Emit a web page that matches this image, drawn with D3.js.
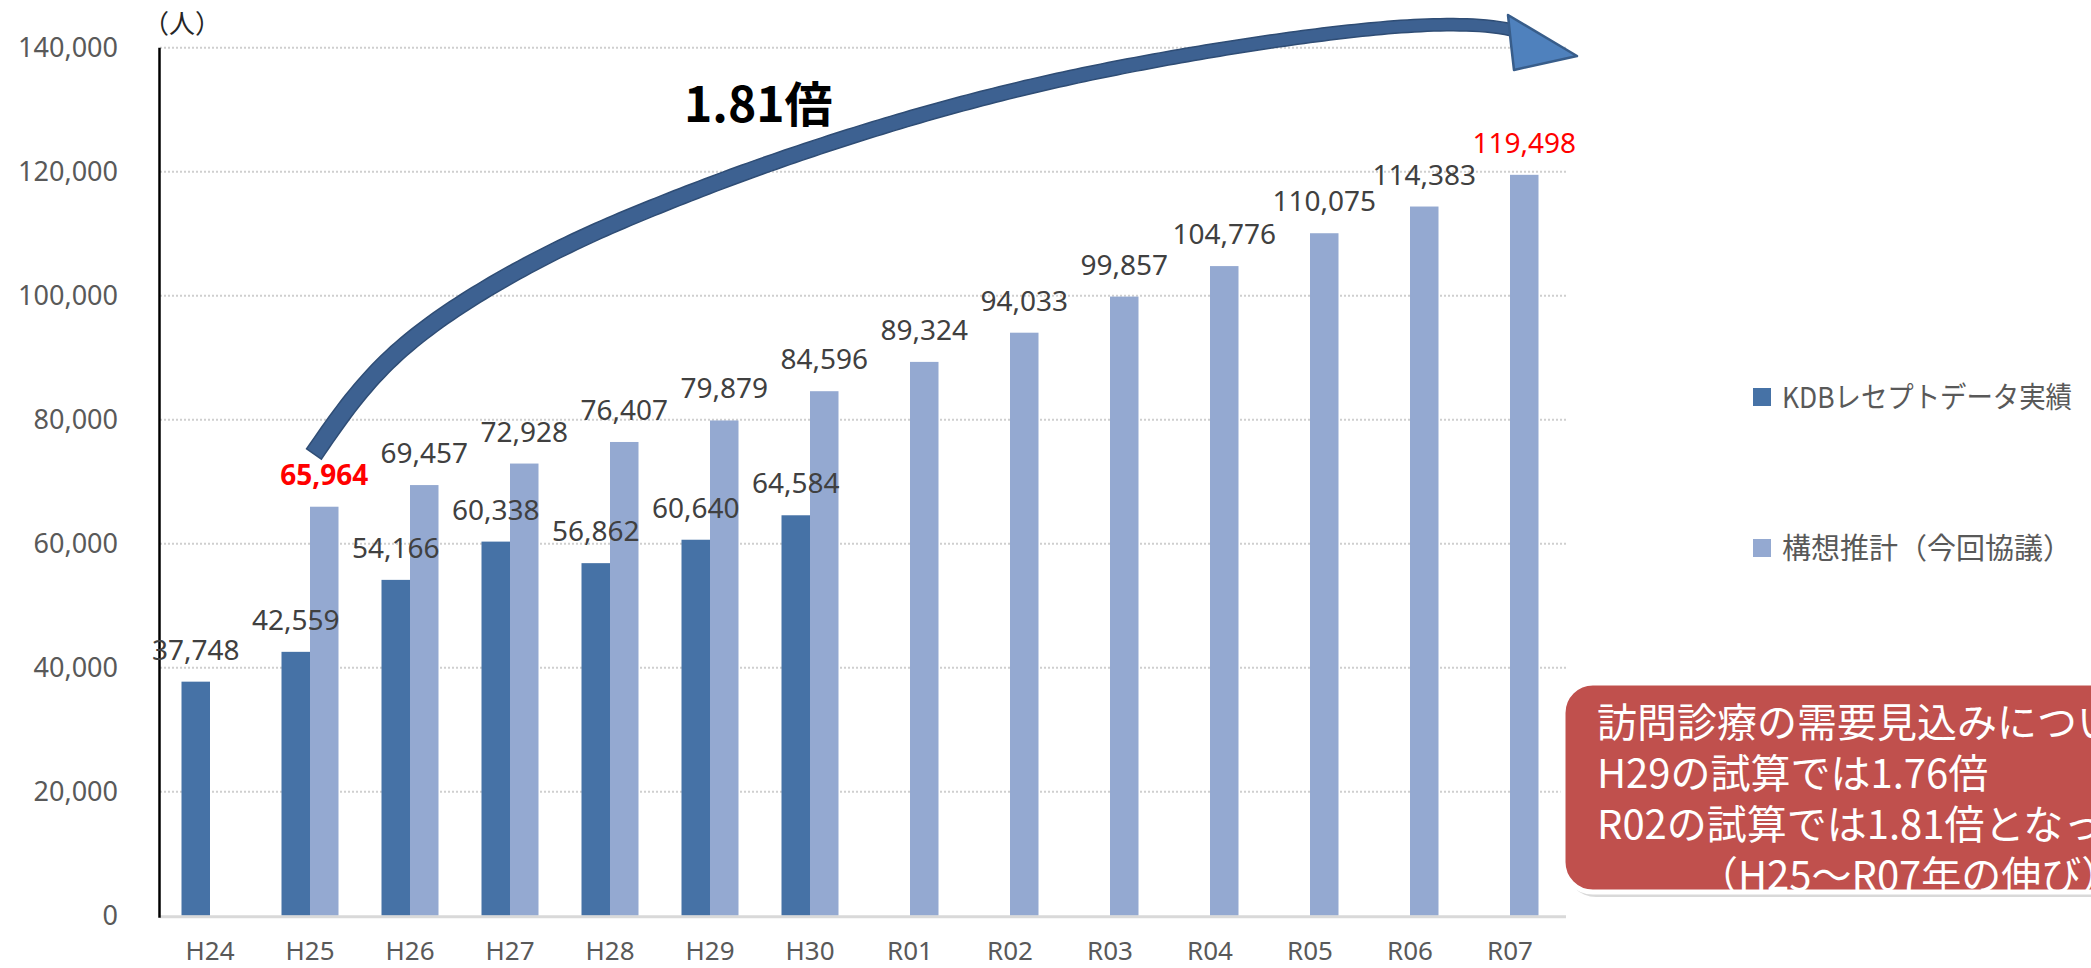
<!DOCTYPE html>
<html>
<head>
<meta charset="utf-8">
<script src="https://cdn.jsdelivr.net/npm/d3@7"></script>
<style>
  body { margin: 0; background: #fff; }
  svg { display: block; }
  text { font-family: "Noto Sans", "Noto Sans CJK JP", sans-serif; }
  .jp { font-family: "Noto Sans CJK JP", "Noto Sans", sans-serif; }
</style>
</head>
<body>
<svg id="chart" width="2091" height="968"></svg>
<script>
// ---- data ----
const categories = ["H24","H25","H26","H27","H28","H29","H30","R01","R02","R03","R04","R05","R06","R07"];
const kdbValues = [37748, 42559, 54166, 60338, 56862, 60640, 64584, null, null, null, null, null, null, null];
const estimateValues = [null, 65964, 69457, 72928, 76407, 79879, 84596, 89324, 94033, 99857, 104776, 110075, 114383, 119498];
const yTicks = [0, 20000, 40000, 60000, 80000, 100000, 120000, 140000];
const seriesNames = ["KDBレセプトデータ実績", "構想推計（今回協議）"];
const seriesKeys = ["kdb", "est"];
const unitLabel = "（人）";
const growthLabel = "1.81倍";
const noteLines = ["訪問診療の需要見込みについて、", "H29の試算では1.76倍", "R02の試算では1.81倍となった", "（H25～R07年の伸び）"];
const highlighted = { "est|H25": { color: "#FF0000", weight: "bold" }, "est|R07": { color: "#FF0000", weight: "normal" } };

const colors = { kdb: "#4672A6", est: "#94A9D1" };

(function () {
const svg = d3.select("#chart");
const plotLeft = 160, plotRight = 1560, plotTop = 47.7, plotBottom = 915.7;

const x = d3.scaleBand().domain(categories).range([plotLeft, plotRight]).paddingInner(0.43).paddingOuter(0.215);
const xs = d3.scaleBand().domain(seriesKeys).range([0, x.bandwidth()]);
const y = d3.scaleLinear().domain([0, 140000]).range([plotBottom, plotTop]);

// gridlines
svg.append("g").selectAll("line").data(yTicks.filter(d => d > 0)).join("line")
  .attr("x1", plotLeft).attr("x2", plotRight + 6)
  .attr("y1", d => y(d)).attr("y2", d => y(d))
  .attr("stroke", "#cfcfcf").attr("stroke-width", 2).attr("stroke-dasharray", "2,2");

// y axis labels
const yAxis = svg.append("g").attr("transform", `translate(${plotLeft},0)`)
  .call(d3.axisLeft(y).tickValues(yTicks).tickFormat(d3.format(",")).tickSize(0).tickPadding(42));
yAxis.select(".domain").remove();
yAxis.selectAll("text").attr("font-size", 27).attr("fill", "#595959")
  .style("font-family", '"Noto Sans", sans-serif');

// bars
const rows = [];
categories.forEach((c, i) => {
  if (kdbValues[i] != null) rows.push({ cat: c, key: "kdb", value: kdbValues[i] });
  if (estimateValues[i] != null) rows.push({ cat: c, key: "est", value: estimateValues[i] });
});

svg.append("g").selectAll("rect").data(rows).join("rect")
  .attr("x", d => x(d.cat) + xs(d.key))
  .attr("width", xs.bandwidth())
  .attr("y", d => y(d.value))
  .attr("height", d => y(0) - y(d.value))
  .attr("fill", d => colors[d.key]);

// baseline
svg.append("line").attr("x1", plotLeft).attr("x2", plotRight + 6).attr("y1", y(0) + 1).attr("y2", y(0) + 1)
  .attr("stroke", "#d9d9d9").attr("stroke-width", 3);
// y axis line
svg.append("line").attr("x1", plotLeft - 0.5).attr("x2", plotLeft - 0.5).attr("y1", y(140000)).attr("y2", y(0) + 2)
  .attr("stroke", "#000").attr("stroke-width", 2.5);

// x axis
const xAxis = svg.append("g").attr("transform", `translate(0,${plotBottom})`)
  .call(d3.axisBottom(x).tickSize(0));
xAxis.select(".domain").remove();
xAxis.selectAll("text").attr("y", 44).attr("dy", null).attr("font-size", 26).attr("fill", "#595959")
  .style("font-family", '"Noto Sans", sans-serif');

// data labels
svg.append("g").selectAll("text").data(rows).join("text")
  .attr("x", d => x(d.cat) + xs(d.key) + xs.bandwidth() / 2)
  .attr("y", d => y(d.value) - 22)
  .attr("text-anchor", "middle")
  .attr("font-size", 28)
  .attr("fill", d => (highlighted[d.key + "|" + d.cat] || {}).color || "#404040")
  .attr("font-weight", d => (highlighted[d.key + "|" + d.cat] || {}).weight || "normal")
  .text(d => d3.format(",")(d.value));

// unit label
svg.append("text").attr("class", "jp").attr("x", 143).attr("y", 33).attr("font-size", 26).attr("fill", "#262626").text(unitLabel);

// legend
const legend = svg.append("g").selectAll("g").data(seriesKeys).join("g")
  .attr("transform", (d, i) => `translate(1753,${[397, 548][i]})`);
legend.append("rect").attr("x", 0).attr("y", -9).attr("width", 18).attr("height", 18).attr("fill", d => colors[d]);
legend.append("text").attr("class", "jp").attr("x", 29).attr("y", 11).attr("font-size", 29).attr("fill", "#595959")
  .attr("textLength", 290).attr("lengthAdjust", "spacingAndGlyphs")
  .text((d, i) => seriesNames[i]);

// curved arrow annotation
const arrowPts = [[314,454],[400,350],[534,262],[667,202],[830,143],[1068,78],[1335,33],[1468,25],[1512,30]];
const tmp = svg.append("path").attr("d", d3.line().curve(d3.curveNatural)(arrowPts)).attr("fill", "none").attr("stroke", "none");
const node = tmp.node();
const L = node.getTotalLength();
const N = 200, wStart = 18, wEnd = 12;
const sideA = [], sideB = [];
for (let k = 0; k <= N; k++) {
  const s = L * k / N;
  const p = node.getPointAtLength(s);
  const p2 = node.getPointAtLength(Math.min(L, s + 1));
  const p1 = node.getPointAtLength(Math.max(0, s - 1));
  let dx = p2.x - p1.x, dy = p2.y - p1.y; const len = Math.hypot(dx, dy) || 1; dx /= len; dy /= len;
  const w = (wStart + (wEnd - wStart) * k / N) / 2;
  sideA.push([p.x - dy * w, p.y + dx * w]);
  sideB.push([p.x + dy * w, p.y - dx * w]);
}
tmp.remove();
svg.append("path").attr("d", d3.line()(sideA.concat(sideB.reverse())) + "Z")
  .attr("fill", "#3D6191").attr("stroke", "#2F4D75").attr("stroke-width", 1.5);
// head
svg.append("path").attr("d", d3.line()([[1508,15],[1577,56],[1514,70],[1511,44]]) + "Z")
  .attr("fill", "#4F81BD").attr("stroke", "#385D8A").attr("stroke-width", 2.5).attr("stroke-linejoin", "round");

svg.append("text").attr("class", "jp").attr("x", 684).attr("y", 122).attr("font-size", 48).attr("font-weight", "bold")
  .attr("fill", "#000").text(growthLabel);

// note box
const box = svg.append("g");
box.append("rect").attr("x", 1566).attr("y", 689).attr("width", 600).attr("height", 208).attr("rx", 30)
  .attr("fill", "#bfbfbf").attr("opacity", 0.6);
box.append("rect").attr("x", 1563).attr("y", 683).attr("width", 600).attr("height", 209).attr("rx", 30)
  .attr("fill", "#C0504D").attr("stroke", "#ffffff").attr("stroke-width", 5);
box.append("text").attr("class", "jp").attr("font-size", 40).attr("fill", "#ffffff")
  .selectAll("tspan").data(noteLines).join("tspan")
  .attr("x", (d, i) => i === 3 ? 1698 : 1597)
  .attr("y", (d, i) => 737 + i * 51)
  .text(d => d);
})();
</script>
</body>
</html>
